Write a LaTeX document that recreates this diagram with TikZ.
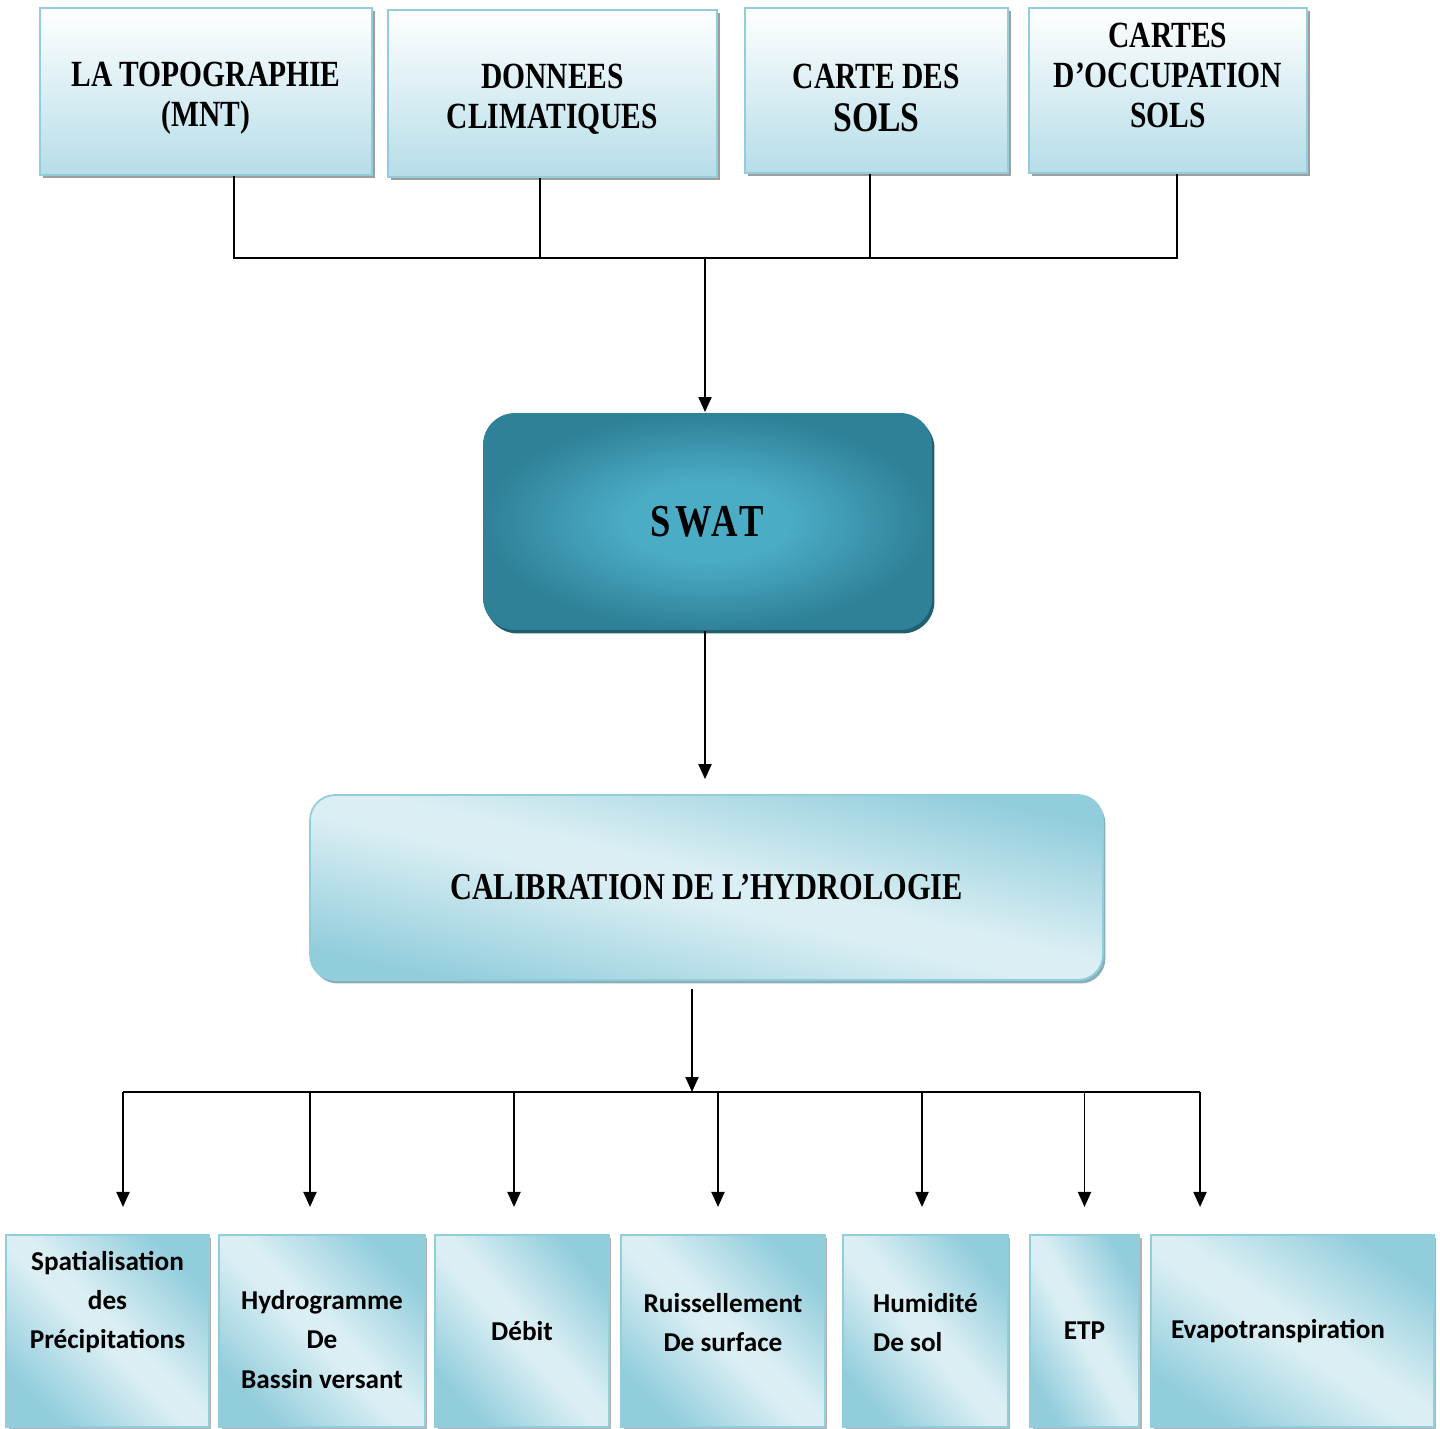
\documentclass[tikz,border=0pt]{standalone}
\usepackage{fontspec}
\usetikzlibrary{arrows.meta,shadows}
\newfontfamily\headfont[FakeStretch=0.8]{Liberation Serif}
\newfontfamily\swatfont[FakeStretch=0.8,LetterSpace=9]{Liberation Serif}
\newfontfamily\itemfont{Carlito}
\definecolor{boxline}{HTML}{92CDDC}
\definecolor{topblue}{HTML}{B6DDE8}
\definecolor{bandblue}{HTML}{92CDDC}
\definecolor{bandlight}{HTML}{DAEEF3}
\definecolor{swatdark}{HTML}{2F8197}
\definecolor{swatlight}{HTML}{4BACC6}
\definecolor{swatrim}{HTML}{215F6F}
\definecolor{calibshade}{HTML}{8AAFBA}
\pgfdeclarehorizontalshading{diagband}{100bp}{color(0bp)=(bandblue); color(25bp)=(bandblue); color(47bp)=(bandlight); color(53bp)=(bandlight); color(75bp)=(bandblue); color(100bp)=(bandblue)}
\pgfdeclareradialshading{swatglow}{\pgfpoint{0bp}{0bp}}{color(0bp)=(swatlight); color(9bp)=(swatlight); color(25bp)=(swatdark); color(50bp)=(swatdark)}

\begin{document}
\begin{tikzpicture}[x=0.02cm,y=-0.02cm,>={Triangle[length=0.3cm,width=0.26cm]},line width=1.1pt,
  inbox/.style={draw=boxline,line width=1.2pt,top color=white,bottom color=topblue,
    general shadow={fill=black!38,shadow xshift=0.06cm,shadow yshift=-0.06cm},
    align=center,inner sep=0pt,font=\headfont\bfseries\fontsize{21}{22.8}\selectfont},
  swatbox/.style={shade,shading=swatglow,rounded corners=0.64cm,
    general shadow={fill=swatrim,shadow xshift=0.05cm,shadow yshift=-0.07cm},
    font=\swatfont\bfseries\fontsize{26}{28}\selectfont},
  calibbox/.style={draw=boxline,line width=1pt,shade,shading=diagband,shading angle=77,rounded corners=0.5cm,
    general shadow={fill=calibshade,shadow xshift=0.05cm,shadow yshift=-0.07cm},
    font=\headfont\bfseries\fontsize{21.6}{23}\selectfont},
  outbox/.style={draw=boxline,line width=1.2pt,shade,shading=diagband,shading angle=45,
    general shadow={fill=black!30,shadow xshift=0.05cm,shadow yshift=-0.05cm},
    minimum height=3.84cm,align=center,inner sep=0pt,font=\itemfont\bfseries\fontsize{15.5}{22.2}\selectfont}]
\useasboundingbox (0,0) rectangle (1440,1429);

\node[inbox,minimum width=6.64cm,minimum height=3.34cm,text height=1.42cm,text depth=0cm] (topo) at (206,91.5) {LA TOPOGRAPHIE\\(MNT)};
\node[inbox,minimum width=6.58cm,minimum height=3.34cm,text height=1.42cm,text depth=0cm] (clim) at (552.5,93.5) {DONNEES\\CLIMATIQUES};
\node[inbox,minimum width=5.26cm,minimum height=3.30cm,text height=1.66cm,text depth=0cm] (sols) at (876.5,90.5) {CARTE DES\\[0.06cm]{\fontsize{24}{26}\selectfont SOLS}};
\node[inbox,minimum width=5.56cm,minimum height=3.30cm,text depth=0.6cm] (occup) at (1168,90.5) {CARTES\\D’OCCUPATION\\SOLS};

\node[swatbox,minimum width=8.98cm,minimum height=4.34cm] (swat) at (707.5,521.5) {SWAT};
\node[calibbox,minimum width=15.86cm,minimum height=3.7cm] (calib) at (706.5,887.5) {CALIBRATION DE L’HYDROLOGIE};

\node[outbox,minimum width=4.06cm,text depth=1.26cm] (spat) at (107.5,1331) {Spatialisation\\des\\Précipitations};
\node[outbox,minimum width=4.12cm,text height=2.28cm,text depth=0cm] (hydro) at (322,1331) {Hydrogramme\\De\\Bassin versant};
\node[outbox,minimum width=3.48cm,shading angle=42] (debit) at (522,1331) {Débit};
\node[outbox,minimum width=4.08cm,text depth=0.36cm] (ruiss) at (723,1331) {Ruissellement\\De surface};
\node[outbox,minimum width=3.30cm,shading angle=41,text depth=0.36cm,align=left] (humid) at (925.5,1331) {Humidité\\De sol};
\node[outbox,minimum width=2.18cm,shading angle=30] (etp) at (1084.5,1331) {ETP};
\node[outbox,minimum width=5.66cm,shading angle=56,text width=4.86cm,align=left] (evapo) at (1292.5,1331) {Evapotranspiration};

\coordinate (jtop) at (705,258);
\coordinate (jbot) at (692,1092);
\draw ([xshift=0.56cm]topo.south) |- (jtop);
\draw ([xshift=0.18cm]occup.south) |- (jtop);
\draw ([xshift=-0.25cm]clim.south) -- ([xshift=-0.25cm]clim.south |- jtop);
\draw ([xshift=-0.13cm]sols.south) -- ([xshift=-0.13cm]sols.south |- jtop);
\draw[->] (jtop) -- (jtop |- swat.north);
\draw[->,shorten >=0.3cm] ([xshift=-0.05cm]swat.south) -- ([xshift=-0.05cm]swat.south |- calib.north);
\draw[->,shorten <=0.16cm] (calib.south -| jbot) -- (jbot);
\draw ([xshift=0.31cm]spat.north |- jbot) -- ([xshift=-1.85cm]evapo.north |- jbot);
\foreach \n/\d in {spat/0.31,hydro/-0.24,debit/-0.16,ruiss/-0.1,humid/-0.07,etp/0,evapo/-1.85}
  \draw[->] ([xshift=\d cm]\n.north |- jbot) -- ([xshift=\d cm,yshift=0.54cm]\n.north);

\end{tikzpicture}
\end{document}
